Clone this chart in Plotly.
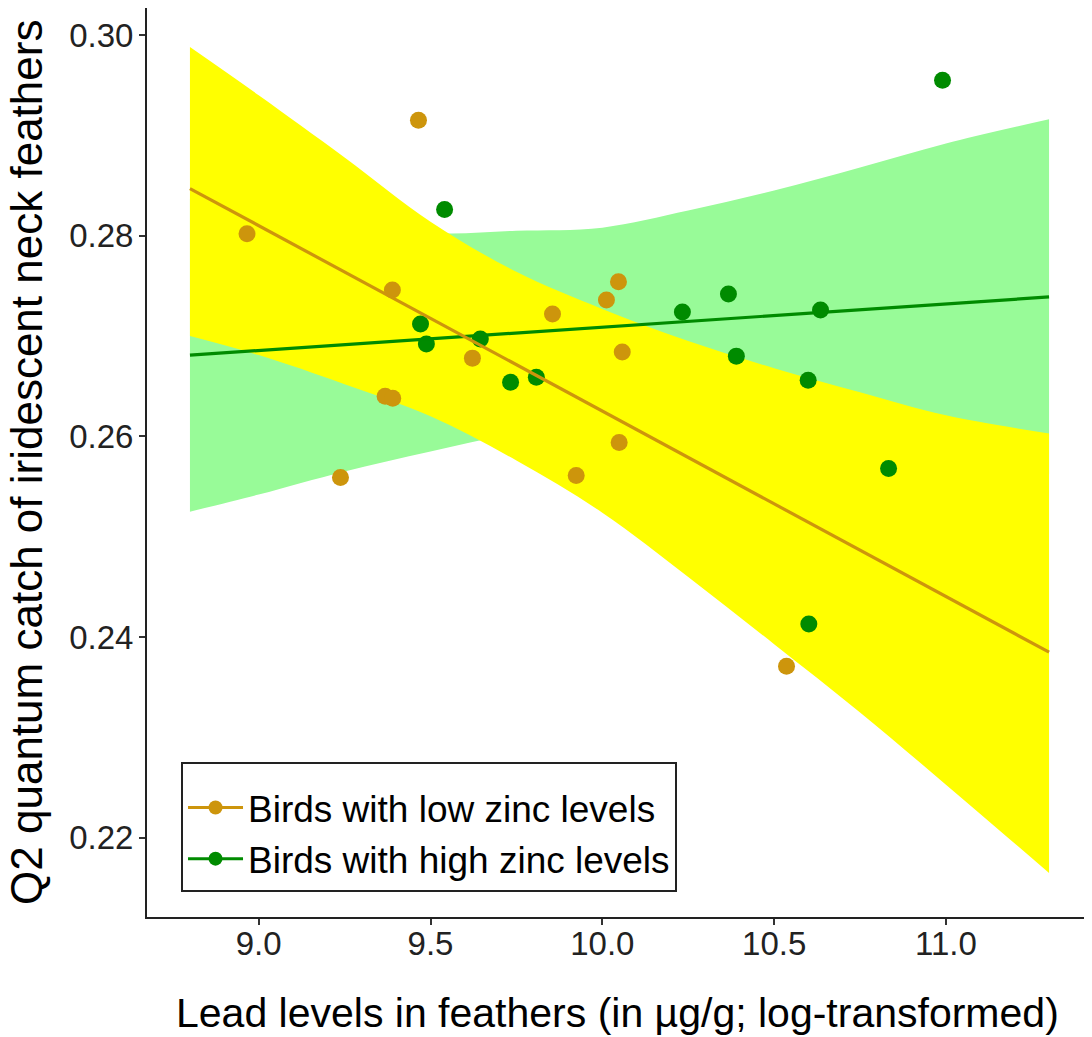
import plotly.graph_objects as go

# ---- data ----
low_x = [8.966, 9.465, 9.389, 9.368, 9.390, 9.238, 9.622, 9.855, 10.012, 10.047, 10.058, 10.049, 9.924, 10.536]
low_y = [0.2802, 0.2915, 0.2746, 0.2640, 0.2638, 0.2559, 0.2678, 0.2722, 0.2736, 0.2754, 0.2684, 0.2594, 0.2561, 0.2371]

high_x = [9.541, 9.471, 9.488, 9.645, 9.733, 9.808, 10.233, 10.367, 10.390, 10.635, 10.599, 10.833, 10.601, 10.990]
high_y = [0.2826, 0.2712, 0.2692, 0.2697, 0.2654, 0.2659, 0.2724, 0.2742, 0.2680, 0.2726, 0.2656, 0.2568, 0.2413, 0.2955]

fit_x = [8.8, 11.3]
low_fit = [0.2847, 0.2385]
high_fit = [0.2681, 0.2739]

band_x = [8.8, 9.0, 9.25, 9.5, 9.75, 10.0, 10.25, 10.5, 10.75, 11.0, 11.3]
low_upper = [0.2988, 0.2940, 0.2878, 0.2814, 0.2764, 0.2727, 0.2695, 0.2668, 0.2644, 0.2621, 0.2603]
low_lower = [0.2700, 0.2681, 0.2652, 0.2620, 0.2576, 0.2524, 0.2460, 0.2393, 0.2325, 0.2253, 0.2165]
high_upper = [0.2837, 0.2830, 0.2819, 0.2803, 0.2805, 0.2808, 0.2825, 0.2845, 0.2868, 0.2892, 0.2916]
high_lower = [0.2525, 0.2542, 0.2565, 0.2585, 0.2603, 0.2610, 0.2605, 0.2596, 0.2585, 0.2572, 0.2562]

x_ticks = [9.0, 9.5, 10.0, 10.5, 11.0]
x_ticktext = ["9.0", "9.5", "10.0", "10.5", "11.0"]
y_ticks = [0.22, 0.24, 0.26, 0.28, 0.30]
y_ticktext = ["0.22", "0.24", "0.26", "0.28", "0.30"]

series_names = ["Birds with low zinc levels", "Birds with high zinc levels"]
x_title = "Lead levels in feathers (in µg/g; log-transformed)"
y_title = "Q2 quantum catch of iridescent neck feathers"

ORANGE = "#CD950C"
GREEN = "#008B00"
YELLOW = "#FFFF00"
PALEGREEN = "#98FB98"
FONT = "Liberation Sans, Arial, sans-serif"

fig = go.Figure()

# green ribbon (under)
fig.add_trace(go.Scatter(x=band_x, y=high_lower, mode="lines", line=dict(width=0, shape="spline"),
                         showlegend=False, hoverinfo="skip"))
fig.add_trace(go.Scatter(x=band_x, y=high_upper, mode="lines", line=dict(width=0, shape="spline"),
                         fill="tonexty", fillcolor=PALEGREEN, showlegend=False, hoverinfo="skip"))
# yellow ribbon (over)
fig.add_trace(go.Scatter(x=band_x, y=low_lower, mode="lines", line=dict(width=0, shape="spline"),
                         showlegend=False, hoverinfo="skip"))
fig.add_trace(go.Scatter(x=band_x, y=low_upper, mode="lines", line=dict(width=0, shape="spline"),
                         fill="tonexty", fillcolor=YELLOW, showlegend=False, hoverinfo="skip"))

# points
fig.add_trace(go.Scatter(x=low_x, y=low_y, mode="markers",
                         marker=dict(color=ORANGE, size=17), showlegend=False))
fig.add_trace(go.Scatter(x=high_x, y=high_y, mode="markers",
                         marker=dict(color=GREEN, size=17), showlegend=False))

# fit lines
fig.add_trace(go.Scatter(x=fit_x, y=high_fit, mode="lines",
                         line=dict(color=GREEN, width=3.2), showlegend=False))
fig.add_trace(go.Scatter(x=fit_x, y=low_fit, mode="lines",
                         line=dict(color=ORANGE, width=3.2), showlegend=False))

# legend entries
fig.add_trace(go.Scatter(x=[None], y=[None], mode="lines+markers", name=series_names[0],
                         line=dict(color=ORANGE, width=3), marker=dict(color=ORANGE, size=14)))
fig.add_trace(go.Scatter(x=[None], y=[None], mode="lines+markers", name=series_names[1],
                         line=dict(color=GREEN, width=3), marker=dict(color=GREEN, size=14)))

axis_common = dict(showline=True, linecolor="#222222", linewidth=2, ticks="outside",
                   ticklen=6, tickwidth=2, tickcolor="#333333", showgrid=False, zeroline=False,
                   automargin=False,
                   tickfont=dict(family=FONT, size=33, color="#222222"))

# page body adds an 8px offset, so the figure is 8px smaller than the window
fig.update_layout(
    width=1084, height=1029,
    margin=dict(l=139, r=0, t=0, b=120),
    paper_bgcolor="white", plot_bgcolor="white",
    font=dict(family=FONT, color="black"),
    xaxis=dict(range=[8.675, 11.425], tickvals=x_ticks, ticktext=x_ticktext,
               ticklabelstandoff=-10, **axis_common),
    yaxis=dict(range=[0.21211, 0.30269], tickvals=y_ticks, ticktext=y_ticktext,
               ticklabelstandoff=-1, **axis_common),
    legend=dict(x=0.036, y=0.1705, xanchor="left", yanchor="top",
                bgcolor="white", bordercolor="#222222", borderwidth=2,
                font=dict(family=FONT, size=37, color="black"),
                title=dict(text=" ", font=dict(size=10)),
                itemwidth=55, traceorder="normal",
                tracegroupgap=0),
    showlegend=True,
    annotations=[
        dict(text=x_title, xref="paper", yref="paper", x=0.4974, y=-0.1056,
             xanchor="center", yanchor="middle", showarrow=False,
             font=dict(family=FONT, size=41, color="black")),
        dict(text=y_title, xref="paper", yref="paper", x=-0.127, y=0.5006,
             xanchor="center", yanchor="middle", showarrow=False, textangle=-90,
             font=dict(family=FONT, size=44, color="black")),
    ],
)

fig.write_html("out.html")
